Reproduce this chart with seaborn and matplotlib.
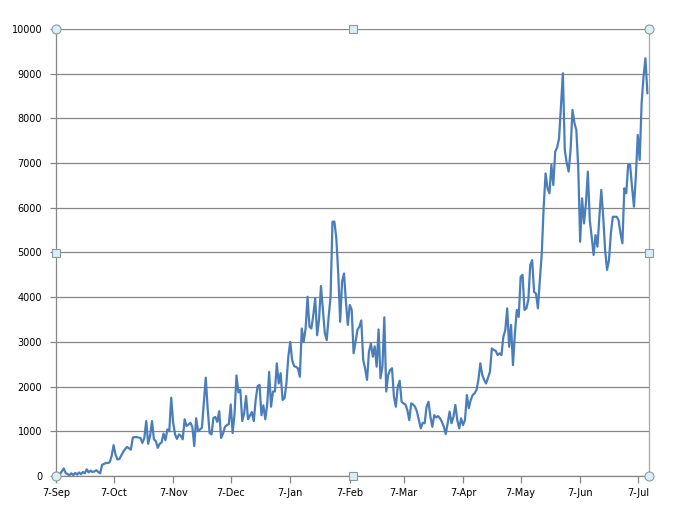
import pandas as pd
import matplotlib.pyplot as plt
import matplotlib.ticker as mticker
import seaborn as sns

# --- dati (valori giornalieri dal 7 settembre) ---
START = "2018-09-07"
valori = [
    20, 60, 40, 100, 170, 70, 40, 20, 60, 20,
    70, 30, 80, 40, 90, 60, 150, 80, 120, 90,
    100, 130, 90, 60, 250, 270, 290, 290, 310, 450,
    690, 480, 370, 380, 460, 540, 600, 650, 620, 590,
    860, 870, 870, 860, 850, 740, 850, 1230, 720, 900,
    1230, 820, 780, 630, 720, 750, 950, 800, 1040, 1000,
    1750, 1200, 930, 830, 930, 900, 820, 1270, 1120, 1150,
    1190, 1100, 670, 1290, 1000, 1040, 1080, 1650, 2200, 1500,
    960, 930, 1300, 1320, 1210, 1450, 850, 950, 1100, 1140,
    1160, 1600, 960, 1400, 2250, 1870, 1930, 1230, 1400, 1790,
    1270, 1350, 1430, 1230, 1700, 2010, 2040, 1360, 1580, 1270,
    1600, 2330, 1550, 1890, 1890, 2520, 2070, 2300, 1700, 1740,
    2070, 2670, 3000, 2590, 2460, 2440, 2410, 2220, 3300, 3000,
    3300, 4010, 3340, 3300, 3600, 3975, 3150, 3500, 4250, 3720,
    3200, 3040, 3560, 4010, 5690, 5690, 5320, 4530, 3450, 4350,
    4530, 3900, 3380, 3825, 3720, 2745, 3000, 3270, 3340, 3480,
    2600, 2400, 2150, 2780, 2970, 2670, 2900, 2445, 3280, 2185,
    2445, 3550, 1890, 2260, 2370, 2410, 1775, 1550, 2000, 2130,
    1660, 1625, 1600, 1475, 1250, 1625, 1600, 1550, 1440, 1250,
    1065, 1190, 1180, 1550, 1660, 1325, 1100, 1360, 1310, 1340,
    1290, 1210, 1100, 940, 1180, 1440, 1180, 1325, 1590, 1250,
    1065, 1290, 1140, 1250, 1810, 1515, 1700, 1810, 1850, 1925,
    2150, 2520, 2260, 2150, 2070, 2200, 2330, 2855, 2820, 2800,
    2705, 2745, 2705, 3115, 3265, 3750, 2890, 3380, 2480, 3190,
    3715, 3560, 4460, 4500, 3715, 3750, 3940, 4720, 4830, 4120,
    4080, 3750, 4385, 4980, 6025, 6770, 6435, 6325, 6960, 6510,
    7255, 7350, 7550, 8260, 9010, 7290, 7000, 6810, 7290, 8190,
    7900, 7740, 6900, 5240, 6210, 5650, 6100, 6810, 5725, 5350,
    4945, 5390, 5130, 5800, 6400, 5800, 5055, 4610, 4830, 5430,
    5800, 5800, 5800, 5725, 5430, 5205, 6435, 6325, 6960, 6960,
    6470, 6025, 6695, 7630, 7070, 8340, 8935, 9345, 8560,
]
y_ticks = [0, 1000, 2000, 3000, 4000, 5000, 6000, 7000, 8000, 9000, 10000]

df = pd.DataFrame({
    "data": pd.date_range(START, periods=len(valori), freq="D"),
    "valore": valori,
})

# --- stile ---
sns.set_theme(style="white")
plt.rcParams["font.family"] = ["DejaVu Sans"]
GRIGIO = "#868686"
BLU = "#4a7ebb"

fig = plt.figure(figsize=(6.74, 5.26), dpi=100)
ax = fig.add_axes([56 / 674, 50 / 526, 593 / 674, 447 / 526])

sns.lineplot(data=df, x="data", y="valore", color=BLU, linewidth=1.6, ax=ax)

# assi
start = pd.Timestamp(START)
ax.set_xlim(start, start + pd.Timedelta(days=308.85))
ax.set_ylim(0, 10000)
ax.set_yticks(y_ticks)
ax.yaxis.set_major_formatter(mticker.FuncFormatter(lambda v, p: f"{int(v)}"))

mesi = pd.date_range(START, periods=11, freq="MS") + pd.Timedelta(days=6)
mesi = [start] + [m for m in mesi if m > start]
ax.set_xticks(mesi[:11])
ax.set_xticklabels([f"{m.day}-{m.strftime('%b')}" for m in mesi[:11]])

ax.set_xlabel("")
ax.set_ylabel("")
ax.grid(axis="y", color=GRIGIO, linewidth=0.9)
ax.grid(axis="x", visible=False)
ax.set_axisbelow(True)

for lato in ["left", "bottom", "right"]:
    ax.spines[lato].set_color(GRIGIO)
    ax.spines[lato].set_linewidth(0.9)
ax.spines["right"].set_color("#a6a6a6")
ax.spines["top"].set_visible(False)

ax.tick_params(axis="y", which="major", length=4, width=0.9, color=GRIGIO,
               pad=6, labelsize=7, labelcolor="black", left=True)
ax.tick_params(axis="x", which="major", length=5, width=0.9, color=GRIGIO,
               pad=4, labelsize=7, labelcolor="black", bottom=True)

# maniglie di selezione (stile Excel)
for xx, yy in [(0, 0), (0, 1), (1, 0), (1, 1)]:
    ax.plot(xx, yy, marker="o", markersize=6.5, markerfacecolor="#dbeef4",
            markeredgecolor="#8a9aa5", markeredgewidth=0.8,
            transform=ax.transAxes, clip_on=False, zorder=10)
for xx, yy in [(0.5, 0), (0.5, 1), (0, 0.5), (1, 0.5)]:
    ax.plot(xx, yy, marker="s", markersize=5.5, markerfacecolor="#dbeef4",
            markeredgecolor="#8a9aa5", markeredgewidth=0.8,
            transform=ax.transAxes, clip_on=False, zorder=10)

plt.savefig("out.png", dpi=100)
plt.close()
